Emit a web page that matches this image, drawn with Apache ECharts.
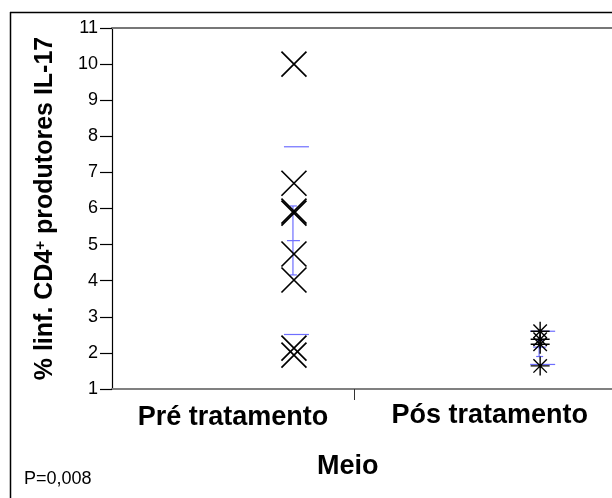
<!DOCTYPE html>
<html>
<head>
<meta charset="utf-8">
<script src="https://cdn.jsdelivr.net/npm/echarts@6/dist/echarts.min.js"></script>
<style>
  html, body { margin: 0; padding: 0; background: #fff; }
  #chart { width: 612px; height: 498px; }
</style>
</head>
<body>
<div id="chart"></div>
<script>
// ---- data ----
var categories = ['Pré tratamento', 'Pós tratamento'];
var categoryLabelX = [0.2354, 0.735];     // label centre of each group segment
var groupBoundary = [0.4708];             // tick between groups
var groupX = [0.354, 0.833];              // x where points are drawn
var preValues = [10.0, 6.70, 5.93, 5.87, 4.74, 4.02, 2.13, 1.94];
var postValues = [2.60, 2.38, 2.24, 1.64];
var groupMean = [5.11, 2.16];
var sdUpper = [7.71, 2.60];
var sdLower = [2.51, 1.68];
var errUpper = [6.07, 2.35];
var errLower = [4.16, 1.90];
var yTicks = [1, 2, 3, 4, 5, 6, 7, 8, 9, 10, 11];
var xVisibleMax = 0.9728;                 // plot continues past the right edge of the picture

var FONT = 'Liberation Sans, Arial, sans-serif';
var BLUE = '#6e6eff';

var chart = echarts.init(document.getElementById('chart'), null, { renderer: 'canvas' });

function pts(x, vals) { return vals.map(function (v) { return [x, v]; }); }

var statsData = groupX.map(function (x, i) {
  return [x, groupMean[i], sdUpper[i], sdLower[i], errUpper[i], errLower[i]];
});

var option = {
  animation: false,
  backgroundColor: '#fff',
  grid: { left: 112, top: 28, right: 0, height: 361, show: false },
  xAxis: [{
    type: 'value', min: 0, max: xVisibleMax,
    axisLine: { show: true, lineStyle: { color: '#808080', width: 2 } },
    axisTick: { show: true, customValues: groupBoundary, length: 11, lineStyle: { color: '#333', width: 1 } },
    axisLabel: {
      customValues: categoryLabelX,
      margin: 14,
      formatter: function (v) {
        var i = categoryLabelX.indexOf(v);
        return i === 0 ? '{a|' + categories[0] + '}' : '{b|' + categories[1] + '}';
      },
      rich: {
        a: { fontSize: 27, fontWeight: 'bold', fontFamily: FONT, color: '#000', lineHeight: 28, padding: [2, 0, 0, 0] },
        b: { fontSize: 27, fontWeight: 'bold', fontFamily: FONT, color: '#000', lineHeight: 28, padding: [0, 0, 2, 0] }
      }
    },
    splitLine: { show: false }
  }, {
    type: 'value', position: 'top', min: 0, max: xVisibleMax,
    axisLine: { show: true, lineStyle: { color: '#777', width: 2 } },
    axisTick: { show: false }, axisLabel: { show: false }, splitLine: { show: false }
  }],
  yAxis: {
    type: 'value', min: 1, max: 11, interval: 1,
    axisLine: { show: true, lineStyle: { color: '#000', width: 1.2 } },
    axisTick: { show: true, length: 12, lineStyle: { color: '#000', width: 1.2 } },
    axisLabel: {
      margin: 14, fontSize: 18, fontFamily: FONT, color: '#000',
      formatter: function (v) { return yTicks.indexOf(v) >= 0 ? String(v) : ''; }
    },
    splitLine: { show: false },
    name: '% linf. CD4{sup|+} produtores IL-17',
    nameLocation: 'middle',
    nameGap: 54,
    nameTextStyle: {
      fontSize: 25, fontWeight: 'bold', fontFamily: FONT, color: '#000',
      rich: {
        sup: { fontSize: 15, fontWeight: 'bold', fontFamily: FONT, color: '#000', verticalAlign: 'top', lineHeight: 15 }
      }
    }
  },
  series: [
    {
      type: 'custom',
      z: 1,
      data: statsData,
      renderItem: function (params, api) {
        var x = api.value(0);
        var mean = api.coord([x, api.value(1)]);
        var sdU = api.coord([x, api.value(2)]);
        var sdL = api.coord([x, api.value(3)]);
        var eU = api.coord([x, api.value(4)]);
        var eL = api.coord([x, api.value(5)]);
        var cx = mean[0] - 1;
        var style = { stroke: BLUE, lineWidth: 1.2 };
        function hl(px, py, l, r) {
          return { type: 'line', shape: { x1: px - l, y1: py, x2: px + r, y2: py }, style: style };
        }
        return {
          type: 'group',
          children: [
            hl(mean[0] + 2.5, sdU[1], 12.5, 12.5),
            hl(mean[0] + 2.5, sdL[1], 12.5, 12.5),
            { type: 'line', shape: { x1: cx, y1: eU[1], x2: cx, y2: eL[1] }, style: style },
            hl(cx, eU[1], 3, 4),
            hl(cx, eL[1], 3, 4),
            hl(cx, mean[1], 6, 7)
          ]
        };
      }
    },
    {
      type: 'scatter',
      z: 2,
      data: pts(groupX[0], preValues),
      symbol: 'path://M0,0 L10,10 M10,0 L0,10',
      symbolSize: 25,
      itemStyle: { color: 'transparent', borderColor: '#000', borderWidth: 1.7, opacity: 1 },
      emphasis: { disabled: true }
    },
    {
      type: 'scatter',
      z: 2,
      data: pts(groupX[1], postValues),
      symbol: 'path://M5,0 L5,10 M0,5 L10,5 M1.46,1.46 L8.54,8.54 M8.54,1.46 L1.46,8.54',
      symbolSize: 19,
      itemStyle: { color: 'transparent', borderColor: '#000', borderWidth: 1.4, opacity: 1 },
      emphasis: { disabled: true }
    }
  ],
  graphic: [
    { type: 'line', shape: { x1: 10, y1: 12.5, x2: 612, y2: 12.5 }, style: { stroke: '#000', lineWidth: 1.5 } },
    { type: 'line', shape: { x1: 10.5, y1: 12, x2: 10.5, y2: 498 }, style: { stroke: '#000', lineWidth: 1.5 } },
    { type: 'text', left: 317, top: 453, style: { text: 'Meio', font: 'bold 27px ' + FONT, fill: '#000' } },
    { type: 'text', left: 24, top: 470, style: { text: 'P=0,008', font: '18px ' + FONT, fill: '#000' } }
  ]
};
chart.setOption(option);
</script>
</body>
</html>
